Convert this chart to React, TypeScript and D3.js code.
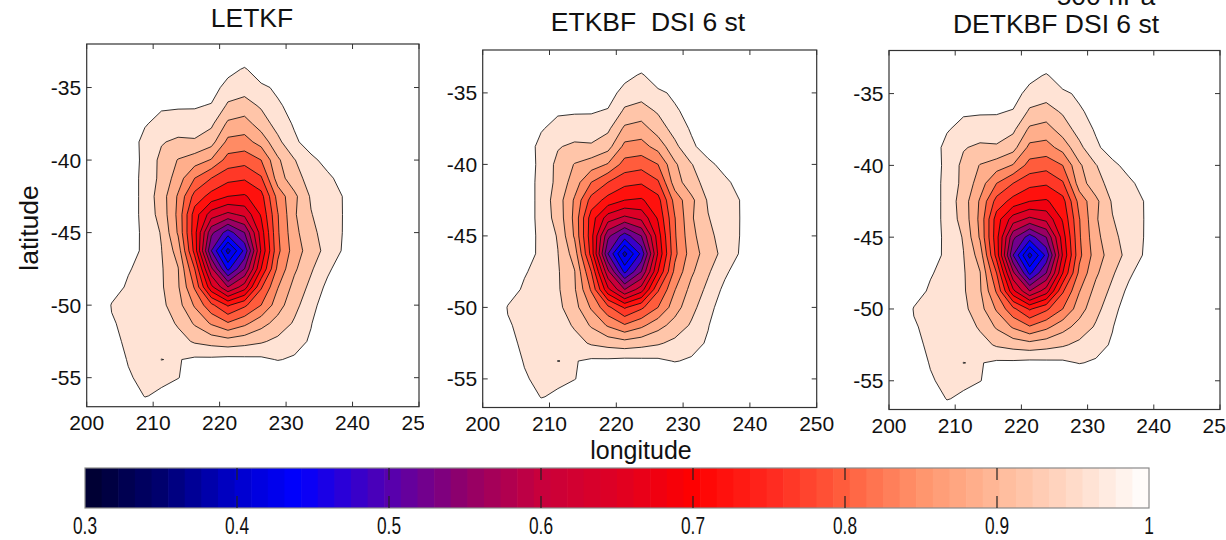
import React from "react";
import * as d3 from "d3";

// ---------------- DATA ----------------
// grid longitudes (columns) and latitudes (rows) of the analysed field
const lons = [198.75, 201.25, 203.75, 206.25, 208.75, 211.25, 213.75, 216.25, 218.75, 221.25, 223.75, 226.25, 228.75, 231.25, 233.75, 236.25, 238.75, 241.25];
const lats = [-32.5, -33.75, -35, -36.25, -37.5, -38.75, -40, -41.25, -42.5, -43.75, -45, -46.25, -47.5, -48.75, -50, -51.25, -52.5, -53.75, -55, -56.25, -57.5];

// field values, one row per latitude
const r32_5 = [1, 1, 1, 1, 1, 1, 1, 1, 1, 1, 1, 1, 1, 1, 1, 1, 1, 1];
const r33_75 = [1, 1, 1, 1, 1, 1, 1, 1, 1, 0.975, 0.955, 0.985, 1, 1, 1, 1, 1, 1];
const r35 = [1, 1, 1, 1, 1, 1, 1, 0.995, 0.98, 0.943, 0.935, 0.952, 0.967, 0.99, 1, 1, 1, 1];
const r36_25 = [1, 1, 1, 0.99, 0.975, 0.965, 0.964, 0.964, 0.957, 0.914, 0.905, 0.925, 0.955, 0.972, 0.99, 1, 1, 1];
const r37_5 = [1, 1, 1, 0.99, 0.963, 0.948, 0.943, 0.941, 0.928, 0.872, 0.862, 0.9, 0.935, 0.965, 0.985, 1, 1, 1];
const r38_75 = [1, 1, 1, 0.98, 0.949, 0.923, 0.912, 0.915, 0.895, 0.829, 0.825, 0.855, 0.91, 0.952, 0.98, 1, 1, 1];
const r40 = [1, 1, 1, 0.985, 0.948, 0.91, 0.878, 0.86, 0.837, 0.784, 0.775, 0.8, 0.873, 0.918, 0.95, 0.974, 1, 1];
const r41_25 = [1, 1, 1, 0.985, 0.945, 0.91, 0.86, 0.8, 0.76, 0.732, 0.725, 0.755, 0.86, 0.905, 0.935, 0.952, 0.975, 1];
const r42_5 = [1, 1, 1, 0.985, 0.945, 0.9, 0.835, 0.745, 0.705, 0.68, 0.675, 0.705, 0.815, 0.87, 0.925, 0.945, 0.962, 1];
const r43_75 = [1, 1, 1, 0.985, 0.945, 0.905, 0.83, 0.7, 0.62, 0.59, 0.61, 0.685, 0.798, 0.875, 0.918, 0.943, 0.962, 1];
const r45 = [1, 1, 1, 0.985, 0.948, 0.917, 0.835, 0.695, 0.53, 0.46, 0.52, 0.66, 0.795, 0.868, 0.91, 0.937, 0.963, 1];
const r46_25 = [1, 1, 1, 0.98, 0.95, 0.921, 0.862, 0.705, 0.48, 0.345, 0.45, 0.645, 0.79, 0.86, 0.9, 0.934, 0.966, 1];
const r47_5 = [1, 1, 1, 0.963, 0.948, 0.924, 0.882, 0.76, 0.57, 0.43, 0.52, 0.68, 0.81, 0.873, 0.915, 0.952, 0.985, 1];
const r48_75 = [1, 1, 0.975, 0.955, 0.945, 0.925, 0.885, 0.795, 0.65, 0.56, 0.62, 0.755, 0.838, 0.893, 0.93, 0.97, 1, 1];
const r50 = [1, 1, 0.958, 0.952, 0.945, 0.93, 0.895, 0.835, 0.77, 0.715, 0.752, 0.8, 0.862, 0.908, 0.945, 0.985, 1, 1];
const r51_25 = [1, 1, 0.963, 0.952, 0.948, 0.94, 0.915, 0.875, 0.835, 0.804, 0.83, 0.865, 0.895, 0.925, 0.958, 0.99, 1, 1];
const r52_5 = [1, 1, 0.97, 0.953, 0.95, 0.948, 0.935, 0.915, 0.905, 0.897, 0.905, 0.915, 0.93, 0.945, 0.965, 1, 1, 1];
const r53_75 = [1, 1, 0.985, 0.957, 0.952, 0.9603, 0.958, 0.967, 0.968, 0.972, 0.97, 0.968, 0.958, 0.965, 0.99, 1, 1, 1];
const r55 = [1, 1, 1, 0.965, 0.948, 0.948, 0.958, 0.985, 1, 1, 1, 1, 1, 1, 1, 1, 1, 1];
const r56_25 = [1, 1, 1, 1, 0.957, 0.97, 1, 1, 1, 1, 1, 1, 1, 1, 1, 1, 1, 1];
const r57_5 = [1, 1, 1, 1, 1, 1, 1, 1, 1, 1, 1, 1, 1, 1, 1, 1, 1, 1];

const fieldRows = [r32_5, r33_75, r35, r36_25, r37_5, r38_75, r40, r41_25, r42_5, r43_75, r45, r46_25, r47_5, r48_75, r50, r51_25, r52_5, r53_75, r55, r56_25, r57_5];

const contourLevels = [0.96, 0.92, 0.88, 0.84, 0.8, 0.76, 0.72, 0.68, 0.64, 0.6, 0.56, 0.52, 0.48, 0.44, 0.4, 0.36];

const lonTicks = [200, 210, 220, 230, 240, 250];
const latTicks = [-35, -40, -45, -50, -55];
const lonDomain = [200, 250];
const latDomain = [-57, -32];

const cbTicks = [0.3, 0.4, 0.5, 0.6, 0.7, 0.8, 0.9, 1];
const cbTickLabels = ["0.3", "0.4", "0.5", "0.6", "0.7", "0.8", "0.9", "1"];
const cbDomain = [0.3, 1];
const cbSteps = 64;

const cmapStops = [0.3, 0.35, 0.4, 0.44, 0.5, 0.55, 0.6, 0.65, 0.7, 0.75, 0.8, 0.85, 0.9, 0.95, 1.0];
const cmapColors = ["#00002d", "#00006e", "#0000cd", "#0000ff", "#5500af", "#910069", "#c8003c", "#de0023", "#ff0000", "#ff281e", "#ff5f3e", "#ff946c", "#ffb998", "#ffdac8", "#ffffff"];

const panelTitles = ["LETKF", "ETKBF  DSI 6 st", "DETKBF DSI 6 st"];

// ---------------- HELPERS ----------------
const FONT = "'Liberation Sans', Arial, Helvetica, sans-serif";
const cmapScale = d3.scaleLinear<string>().domain(cmapStops).range(cmapColors).interpolate(d3.interpolateRgb);
const cmap64 = d3.range(cbSteps).map((k) => cmapScale(cbDomain[0] + ((k + 0.5) / cbSteps) * (cbDomain[1] - cbDomain[0])));
const colorIndex = (v: number) =>
  Math.max(0, Math.min(cbSteps - 1, Math.floor(((v - cbDomain[0]) / (cbDomain[1] - cbDomain[0])) * cbSteps + 1e-9)));
// the innermost (bluest) bands of the reference read a little brighter than the bar
const fillOf = (level: number) => cmap64[colorIndex(level < 0.42 ? level + 0.03 : level)];

type Box = { x0: number; x1: number; y0: number; y1: number };

function Panel({ id, box, title, titleX, titleY, bg, extra }: { id: string; box: Box; title: string; titleX: number; titleY: number; bg?: number[]; extra?: React.ReactNode }) {
  const xs = d3.scaleLinear().domain(lonDomain).range([box.x0, box.x1]);
  const ys = d3.scaleLinear().domain(latDomain).range([box.y1, box.y0]);
  const nx = lons.length;
  const ny = lats.length;
  const flat: number[] = [];
  fieldRows.forEach((r) => r.forEach((v) => flat.push(-v)));
  const gen = d3.contours().size([nx, ny]).thresholds(contourLevels.map((l) => -l));
  const polys = gen(flat).map((c) => ({ level: -c.value, geom: c }));
  polys.sort((a, b) => b.level - a.level);
  const dLon = lons[1] - lons[0];
  const dLat = lats[1] - lats[0];
  const tf = d3.geoTransform({
    point: function (this: any, px: number, py: number) {
      this.stream.point(xs(lons[0] + (px - 0.5) * dLon), ys(lats[0] + (py - 0.5) * dLat));
    },
  });
  const path = d3.geoPath(tf as any);
  const tl = 5;
  return (
    <g>
      {bg && <rect x={bg[0]} y={bg[1]} width={bg[2]} height={bg[3]} fill="#ffffff" />}
      <defs>
        <clipPath id={id}>
          <rect x={box.x0} y={box.y0} width={box.x1 - box.x0} height={box.y1 - box.y0} />
        </clipPath>
      </defs>
      <g clipPath={`url(#${id})`}>
        {polys.map((p, i) => (
          <path key={"f" + i} d={path(p.geom as any) || ""} fill={fillOf(p.level)} stroke="none" />
        ))}
        {polys.map((p, i) => (
          <path key={"s" + i} d={path(p.geom as any) || ""} fill="none" stroke="#111" strokeWidth={0.85} strokeLinejoin="round" />
        ))}
      </g>
      <rect x={box.x0} y={box.y0} width={box.x1 - box.x0} height={box.y1 - box.y0} fill="none" stroke="#333" strokeWidth={1.2} />
      {lonTicks.map((t) => (
        <g key={"xt" + t}>
          <line x1={xs(t)} x2={xs(t)} y1={box.y1} y2={box.y1 - tl} stroke="#333" strokeWidth={1} />
          <line x1={xs(t)} x2={xs(t)} y1={box.y0} y2={box.y0 + tl} stroke="#333" strokeWidth={1} />
          <text x={xs(t)} y={box.y1 + 23.5} fontSize={21} fontFamily={FONT} textAnchor="middle" fill="#111">
            {t}
          </text>
        </g>
      ))}
      {latTicks.map((t) => (
        <g key={"yt" + t}>
          <line x1={box.x0} x2={box.x0 + tl} y1={ys(t)} y2={ys(t)} stroke="#333" strokeWidth={1} />
          <line x1={box.x1} x2={box.x1 - tl} y1={ys(t)} y2={ys(t)} stroke="#333" strokeWidth={1} />
          <text x={box.x0 - 5.5} y={ys(t) + 7.5} fontSize={21} fontFamily={FONT} textAnchor="end" fill="#111">
            {t}
          </text>
        </g>
      ))}
      <text x={titleX} y={titleY} fontSize={26.5} fontFamily={FONT} textAnchor="middle" fill="#111" style={{ whiteSpace: "pre" }}>
        {title}
      </text>
      {extra}
    </g>
  );
}

function Colorbar() {
  const x0 = 85, x1 = 1149, y0 = 468, y1 = 508;
  const cs = d3.scaleLinear().domain(cbDomain).range([x0, x1]);
  const step = (cbDomain[1] - cbDomain[0]) / cbSteps;
  const tickLen = 12;
  return (
    <g>
      {cmap64.map((c, k) => (
        <rect key={k} x={cs(cbDomain[0] + k * step)} y={y0} width={cs(cbDomain[0] + (k + 1) * step) - cs(cbDomain[0] + k * step) + 0.6} height={y1 - y0} fill={c} />
      ))}
      <rect x={x0} y={y0} width={x1 - x0} height={y1 - y0} fill="none" stroke="#8a8a8a" strokeWidth={1.2} />
      {cbTicks.slice(1, -1).map((t) => (
        <g key={"cbt" + t}>
          <line x1={cs(t)} x2={cs(t)} y1={y0} y2={y0 + tickLen} stroke="#222" strokeWidth={1.2} />
          <line x1={cs(t)} x2={cs(t)} y1={y1} y2={y1 - tickLen} stroke="#222" strokeWidth={1.2} />
        </g>
      ))}
      {cbTicks.map((t, i) => (
        <g key={"cbl" + t} transform={`translate(${cs(t)},534) scale(0.72,1)`}>
          <text x={0} y={0} fontSize={24} fontFamily={FONT} textAnchor="middle" fill="#111">
            {cbTickLabels[i]}
          </text>
        </g>
      ))}
    </g>
  );
}

export default function App() {
  const W = 1226, H = 540;
  return (
    <svg width={W} height={H} viewBox={`0 0 ${W} ${H}`} style={{ position: "absolute", left: 0, top: 0, background: "#fff" }}>
      <rect x={0} y={0} width={W} height={H} fill="#ffffff" />
      <Panel id="cp1" box={{ x0: 86.7, x1: 419, y0: 44, y1: 406.7 }} title={panelTitles[0]} titleX={252} titleY={27} />
      <Panel id="cp2" box={{ x0: 482.7, x1: 816.7, y0: 50, y1: 407.5 }} title={panelTitles[1]} titleX={648} titleY={31} bg={[424, 0, 420, 440]} />
      <Panel
        id="cp3"
        box={{ x0: 889, x1: 1220, y0: 50.5, y1: 409.5 }}
        title={panelTitles[2]}
        titleX={1056}
        titleY={32.5}
        bg={[846, 0, 380, 440]}
        extra={
          <text x={1106} y={4.5} fontSize={26.5} fontFamily={FONT} textAnchor="middle" fill="#111">
            500 hPa
          </text>
        }
      />
      <text fontSize={26.5} fontFamily={FONT} textAnchor="middle" fill="#111" transform="rotate(-90 37.5 228)">
        <tspan x={37.5} y={228}>latitude</tspan>
      </text>
      <text x={641} y={459} fontSize={25} fontFamily={FONT} textAnchor="middle" fill="#111">
        longitude
      </text>
      <Colorbar />
    </svg>
  );
}
